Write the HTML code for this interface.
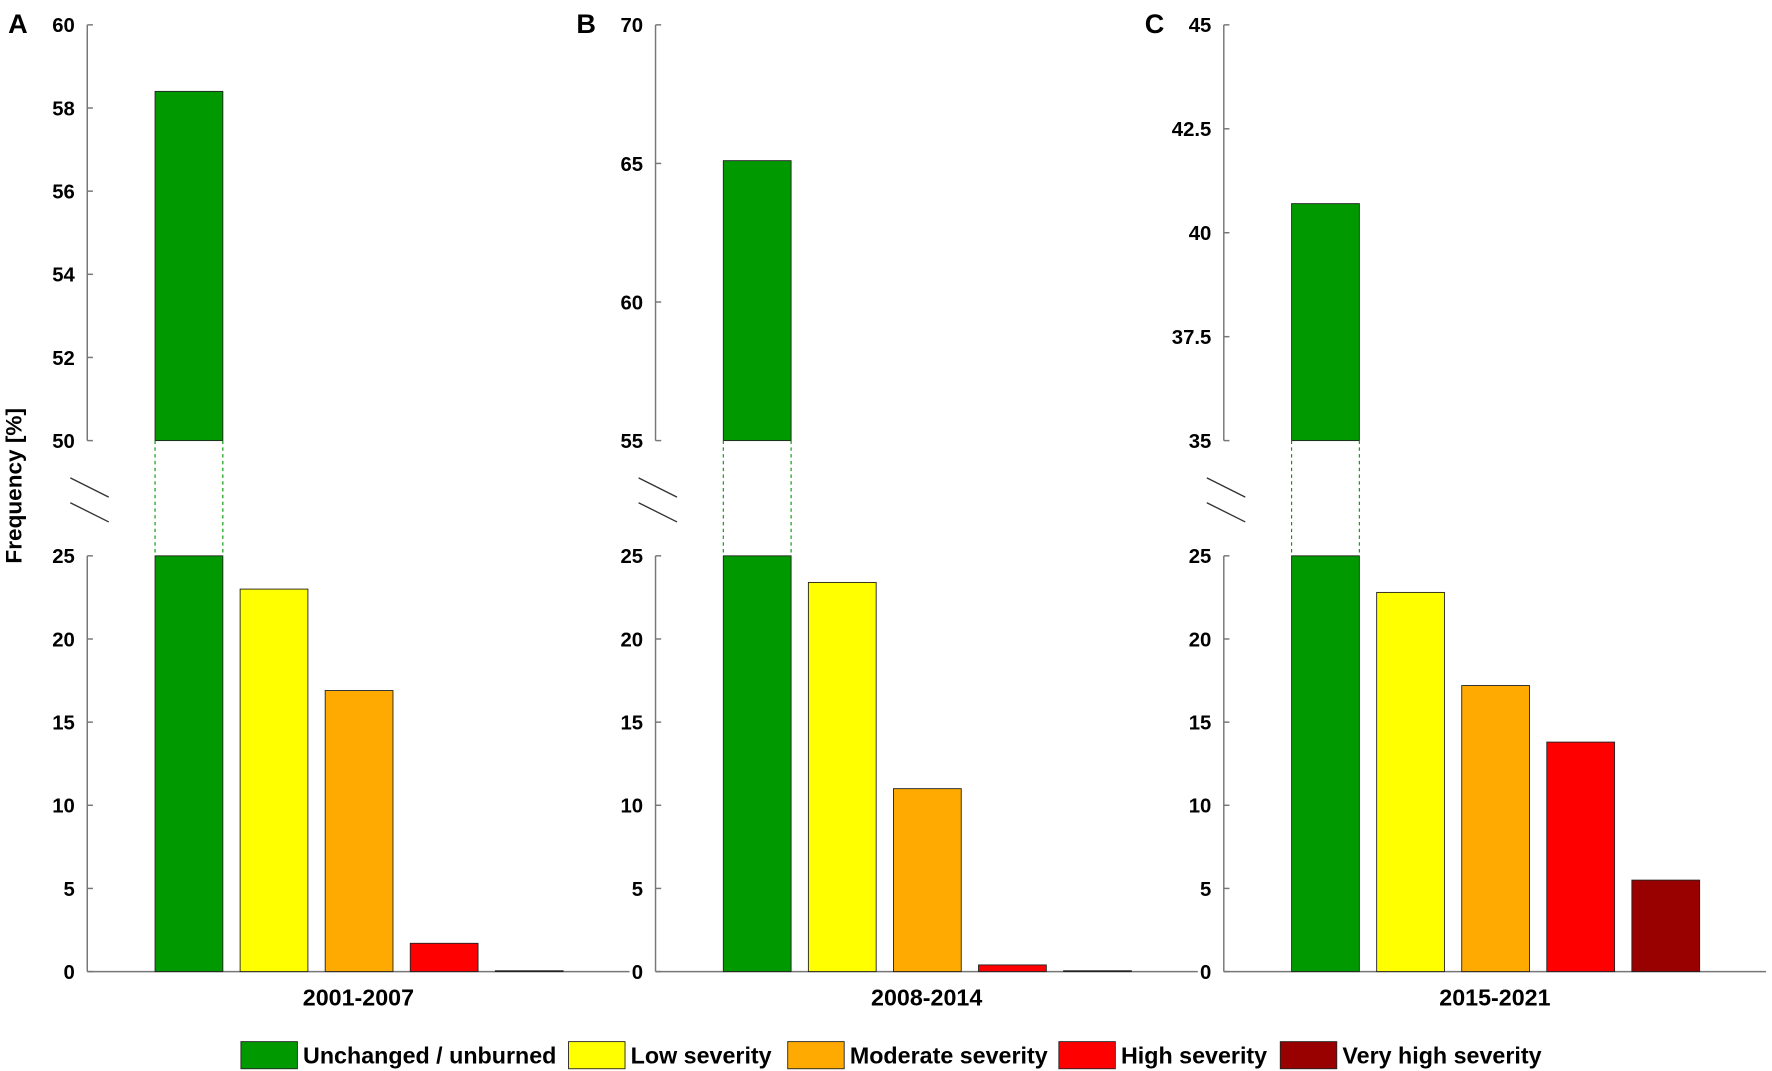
<!DOCTYPE html>
<html><head><meta charset="utf-8"><style>
html,body{margin:0;padding:0;background:#fff;}
svg{display:block;font-family:"Liberation Sans",Arial,sans-serif;font-weight:bold;}
</style></head><body>
<svg id="chart" width="1772" height="1071" viewBox="0 0 1568 948" xmlns="http://www.w3.org/2000/svg">
<text x="0" y="0" transform="translate(19,430) rotate(-90)" text-anchor="middle" font-size="20">Frequency [%]</text>
<g id="legend"></g>
</svg>
<script>
const periods = ["2001-2007","2008-2014","2015-2021"];
const panelLetters = ["A","B","C"];
const classes = ["Unchanged / unburned","Low severity","Moderate severity","High severity","Very high severity"];
const colors = ["#009900","#ffff00","#ffaa00","#ff0000","#990000"];
const valuesA = [58.4,23.0,16.9,1.7,0.05];
const valuesB = [65.1,23.4,11.0,0.4,0.05];
const valuesC = [40.7,22.8,17.2,13.8,5.5];
const upperMin = [50,55,35];
const upperMax = [60,70,45];
const upperTicksA = [50,52,54,56,58,60];
const upperTicksB = [55,60,65,70];
const upperTicksC = ["35","37.5","40","42.5","45"];
const lowerTicks = [0,5,10,15,20,25];
const lowerMax = 25;

const NS="http://www.w3.org/2000/svg";
const svg=document.getElementById('chart');
function mk(tag,attrs,parent){const e=document.createElementNS(NS,tag);for(const k in attrs)e.setAttribute(k,attrs[k]);(parent||svg).appendChild(e);return e;}
const allVals=[valuesA,valuesB,valuesC];
const allUpper=[upperTicksA,upperTicksB,upperTicksC];
const lowTop=492, lowBot=860, upTop=22, upBot=390;
function yLow(v){return lowBot-(v/lowerMax)*(lowBot-lowTop);}
periods.forEach((p,pi)=>{
  const ax=77+pi*503;
  const g=mk('g',{});
  
  
  const yUp=v=>upBot-((v-upperMin[pi])/(upperMax[pi]-upperMin[pi]))*(upBot-upTop);
  const L=mk('text',{x:ax-70,y:29,'font-size':24},g);L.textContent=panelLetters[pi];
  
  
  mk('line',{x1:ax,y1:upTop,x2:ax,y2:upBot,stroke:'#777','stroke-width':1.3},g);
  mk('line',{x1:ax,y1:lowTop,x2:ax,y2:lowBot,stroke:'#777','stroke-width':1.3},g);
  mk('line',{x1:ax,y1:lowBot,x2:ax+480,y2:lowBot,stroke:'#777','stroke-width':1.3},g);
  mk('line',{x1:ax-15,y1:423,x2:ax+19,y2:440,stroke:'#333','stroke-width':1.2},g);
  mk('line',{x1:ax-15,y1:445,x2:ax+19,y2:462,stroke:'#333','stroke-width':1.2},g);
  allUpper[pi].forEach(t=>{const y=yUp(parseFloat(t));
    mk('line',{x1:ax,y1:y,x2:ax+5,y2:y,stroke:'#777','stroke-width':1.3},g);
    const tx=mk('text',{x:ax-11,y:y+6.5,'text-anchor':'end','font-size':18},g);tx.textContent=t;
    
    
  });
  lowerTicks.forEach(t=>{const y=yLow(t);
    mk('line',{x1:ax,y1:y,x2:ax+5,y2:y,stroke:'#777','stroke-width':1.3},g);
    const tx=mk('text',{x:ax-11,y:y+6.5,'text-anchor':'end','font-size':18},g);tx.textContent=t;
    
    
  });
  const vals=allVals[pi];
  vals.forEach((v,i)=>{
    const x=ax+60+i*75.3;
    if(v>lowerMax){
      const r1=mk('rect',{x:x,y:lowTop,width:60,height:lowBot-lowTop,fill:colors[i],stroke:'#222','stroke-width':0.8},g);
      
      
      const r2=mk('rect',{x:x,y:yUp(v),width:60,height:upBot-yUp(v),fill:colors[i],stroke:'#222','stroke-width':0.8},g);
      
      
      mk('line',{x1:x,y1:upBot,x2:x,y2:lowTop,stroke:colors[i],'stroke-dasharray':'3,3','stroke-width':1},g);
      mk('line',{x1:x+60,y1:upBot,x2:x+60,y2:lowTop,stroke:colors[i],'stroke-dasharray':'3,3','stroke-width':1},g);
    } else {
      const r=mk('rect',{x:x,y:yLow(v),width:60,height:lowBot-yLow(v),fill:colors[i],stroke:'#222','stroke-width':0.8},g);
      
      
    }
  });
  const c=mk('text',{x:ax+240,y:890,'text-anchor':'middle','font-size':20.6},g);c.textContent=p;
  
  
});
const lg=document.getElementById('legend');
const lx=[213,503,697,937,1133];
classes.forEach((c,i)=>{
  const r=mk('rect',{x:lx[i],y:922,width:50,height:24,fill:colors[i],stroke:'#222','stroke-width':0.8},lg);
  
  
  const t=mk('text',{x:lx[i]+55,y:941.5,'font-size':20.6},lg);t.textContent=c;
  
  
});
</script>
</body></html>
